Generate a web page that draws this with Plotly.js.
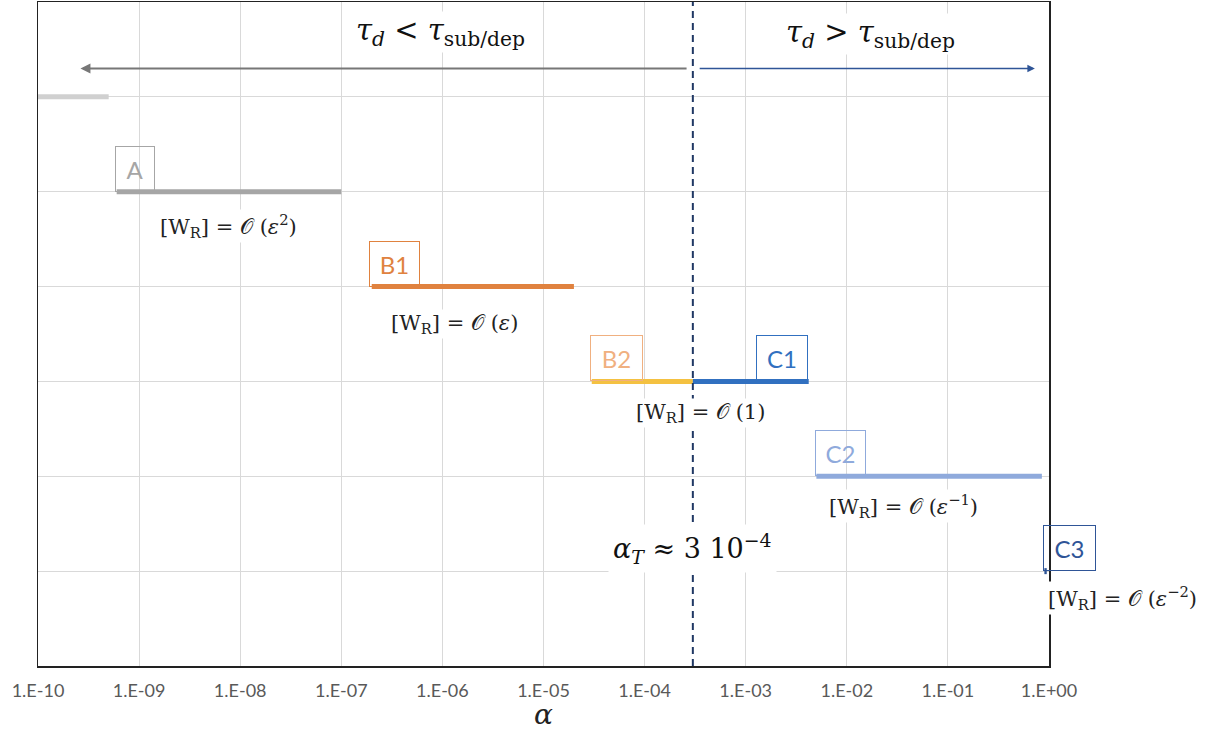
<!DOCTYPE html>
<html>
<head>
<meta charset="utf-8">
<script src="https://cdn.plot.ly/plotly-3.0.1.min.js"></script>
<style>html,body{margin:0;padding:0;background:#fff;}#chart{width:1211px;height:731px;}</style>
</head>
<body>
<div id="chart"></div>
<script>
// ---- data ----
var regimes = ["W6", "A", "B1", "B2", "C1", "C2", "C3"];
var alphaStart = [1e-10, 6e-10, 2e-7, 3e-5, 3e-4, 5e-3, 0.9];
var alphaEnd   = [5e-10, 1e-7, 2e-5, 3e-4, 4.2e-3, 0.85, 0.95];
var level      = [6, 5, 4, 3, 3, 2, 1];
var alphaT = 3e-4;
var tickVals = [1e-10, 1e-9, 1e-8, 1e-7, 1e-6, 1e-5, 1e-4, 1e-3, 1e-2, 1e-1, 1];
var tickText = ["1.E-10", "1.E-09", "1.E-08", "1.E-07", "1.E-06", "1.E-05", "1.E-04", "1.E-03", "1.E-02", "1.E-01", "1.E+00"];

// ---- styles ----
var lineColors = ["#d0d0d0", "#a6a6a6", "#e0823f", "#f4c141", "#3170c0", "#8faadc", "#2f5597"];
var boxColors  = [null, "#a6a6a6", "#e0823f", "#f0b080", "#3170c0", "#8faadc", "#2f5597"];
var boxLeft    = [0, -9.24, -6.73, -4.54, -2.90, -2.31, -0.06];   // log10 positions of the label boxes
var boxWidths  = [0, 40, 51, 53, 52, 51, 53];

var traces = regimes.map(function (r, i) {
  return {
    type: "scatter", mode: "lines",
    x: [alphaStart[i], alphaEnd[i]], y: [level[i], level[i]],
    line: {color: lineColors[i], width: i === 6 ? 6 : 5},
    hoverinfo: "skip", showlegend: false, cliponaxis: false
  };
});
// alpha_T dashed line
traces.push({
  type: "scatter", mode: "lines", x: [alphaT, alphaT], y: [0, 7],
  line: {color: "#203864", width: 2, dash: "7px,5px"}, hoverinfo: "skip", showlegend: false
});

var serif = "DejaVu Serif, Liberation Serif, serif";
var L = Math.log10;
var annotations = [];

// regime boxes
for (var i = 1; i < regimes.length; i++) {
  annotations.push({
    x: boxLeft[i], y: level[i], xref: "x", yref: "y",
    xanchor: "left", yanchor: "bottom", showarrow: false,
    text: regimes[i], width: boxWidths[i] - 2, height: 44,
    font: {family: "Lato, Open Sans, sans-serif", size: 24, color: boxColors[i]},
    bordercolor: boxColors[i], borderwidth: 1, borderpad: 0, bgcolor: "rgba(255,255,255,0)"
  });
}

// order labels
var orderText = [
  "[W<sub>R</sub>] = 𝒪 (<i>ε</i><sup>2</sup>)",
  "[W<sub>R</sub>] = 𝒪 (<i>ε</i>)",
  "[W<sub>R</sub>] = 𝒪 (1)",
  "[W<sub>R</sub>] = 𝒪 (<i>ε</i><sup>−1</sup>)",
  "[W<sub>R</sub>] = 𝒪 (<i>ε</i><sup>−2</sup>)"
];
var orderX = [-8.12, -5.88, -3.45, -1.44, 0.73];
var orderY = [4.64, 3.61, 2.67, 1.69, 0.72];
orderText.forEach(function (t, k) {
  var inside = orderX[k] <= 0;
  annotations.push({
    x: inside ? orderX[k] : (orderX[k] + 10) / 10, y: orderY[k],
    xref: inside ? "x" : "paper", yref: "y", xanchor: "center", yanchor: "middle", showarrow: false,
    text: t, bgcolor: "#ffffff", borderpad: 1, font: {family: serif, size: 21, color: "#222"}
  });
});

// regime titles
annotations.push({x: -6.02, y: 6.68, xref: "x", yref: "y", showarrow: false, bgcolor: "#ffffff",
  text: "<i>τ<sub>d</sub></i> < <i>τ</i><sub>sub/dep</sub>", font: {family: serif, size: 29, color: "#111"}});
annotations.push({x: -1.77, y: 6.66, xref: "x", yref: "y", showarrow: false, bgcolor: "#ffffff",
  text: "<i>τ<sub>d</sub></i> > <i>τ</i><sub>sub/dep</sub>", font: {family: serif, size: 29, color: "#111"}});

// arrows
annotations.push({x: -9.58, y: 6.3, ax: -3.57, ay: 6.3, xref: "x", yref: "y", axref: "x", ayref: "y",
  text: "", showarrow: true, arrowhead: 2, arrowsize: 1, arrowwidth: 2, arrowcolor: "#777777"});
annotations.push({x: -0.14, y: 6.3, ax: -3.47, ay: 6.3, xref: "x", yref: "y", axref: "x", ayref: "y",
  text: "", showarrow: true, arrowhead: 2, arrowsize: 1, arrowwidth: 1.5, arrowcolor: "#2f5597"});

// alpha_T label
annotations.push({x: L(alphaT), y: 1.24, xref: "x", yref: "y", showarrow: false,
  text: "<i>α<sub>T</sub></i> ≈ 3 10<sup>−4</sup>", bgcolor: "#ffffff", borderpad: 4,
  font: {family: serif, size: 27, color: "#111"}});

var layout = {
  width: 1211, height: 731,
  margin: {l: 38, r: 162, t: 2, b: 65},
  paper_bgcolor: "#fff", plot_bgcolor: "#fff",
  xaxis: {
    type: "log", range: [-10, 0], tickvals: tickVals, ticktext: tickText,
    showgrid: true, gridcolor: "#d9d9d9", gridwidth: 1,
    showline: true, linecolor: "#222", linewidth: 1.5, mirror: true,
    ticks: "", ticklabelstandoff: 8, zeroline: false,
    tickfont: {family: "Lato, Open Sans, sans-serif", size: 18, color: "#595959"},
    title: {text: "<i>α</i>", standoff: 5, font: {family: serif, size: 28, color: "#222"}}
  },
  yaxis: {
    range: [0, 7], dtick: 1, showticklabels: false, ticks: "",
    showgrid: true, gridcolor: "#d9d9d9", gridwidth: 1, zeroline: false,
    showline: true, linecolor: "#222", linewidth: 1.5, mirror: true
  },
  annotations: annotations,
  showlegend: false
};

Plotly.newPlot("chart", traces, layout, {displayModeBar: false, staticPlot: true});
</script>
</body>
</html>
